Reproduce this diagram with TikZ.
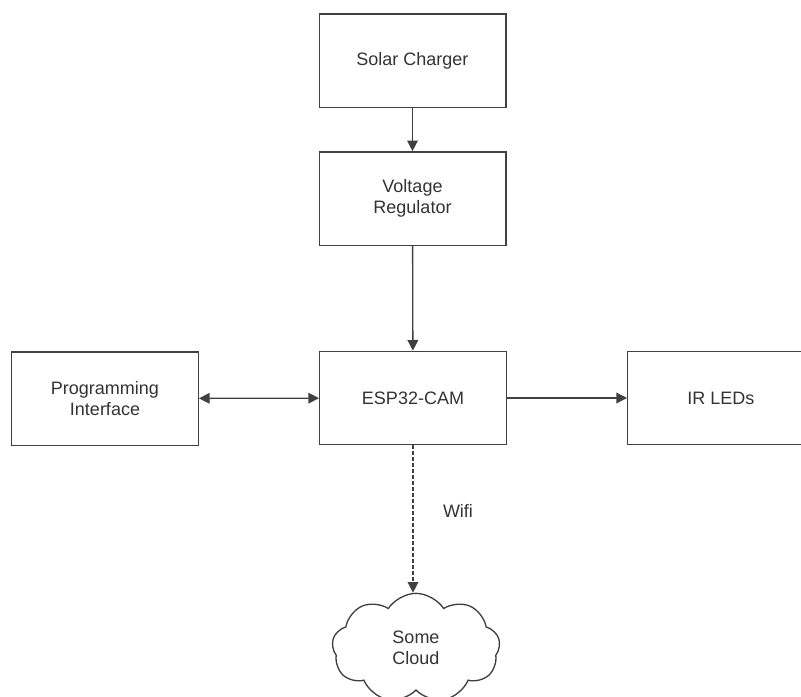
\documentclass[tikz,border=0pt]{standalone}
\usepackage{fontspec}
\setmainfont{Liberation Sans}
\usetikzlibrary{arrows.meta,shapes.symbols}

\begin{document}
\begin{tikzpicture}[x=0.75pt,y=-0.75pt,
  block/.style={draw=black!75, line width=1pt, minimum width=140pt, minimum height=70pt, align=center, font=\fontsize{13.5}{15.5}\selectfont, text=black!80},
  link/.style={draw=black!75, line width=1pt, -{Triangle[length=8pt,width=8pt]}},
  dlink/.style={link, {Triangle[length=8pt,width=8pt]}-{Triangle[length=8pt,width=8pt]}},
  wlink/.style={link, dash pattern=on 2.5pt off 2pt}]

\useasboundingbox (0,0) rectangle (801,697);

\node[block] (solar) at (412.5,60.5) {Solar Charger};
\node[block] (volt) at (412.5,198.5) {Voltage\\Regulator};
\node[block] (esp) at (413,398) {ESP32-CAM};
\node[block] (prog) at (105,398.5) {Programming\\Interface};
\node[block] (ir) at (721,398) {IR LEDs};
\node[cloud, cloud puffs=9, cloud puff arc=115, draw=black!75, line width=1pt, minimum width=126pt, minimum height=82pt, align=center, font=\fontsize{13.5}{15.5}\selectfont, text=black!80] (cloud) at (416,648) {Some\\Cloud};
\node[font=\fontsize{13.5}{15.5}\selectfont, text=black!80] (wifi) at (458,511) {Wifi};

\draw[link] (solar) -- (volt);
\draw[link] (volt) -- (esp);
\draw[dlink] (prog) -- (esp);
\draw[link] (esp) -- (ir);
\draw[wlink] (esp.south) -- (esp.south |- cloud.north);

\end{tikzpicture}
\end{document}
